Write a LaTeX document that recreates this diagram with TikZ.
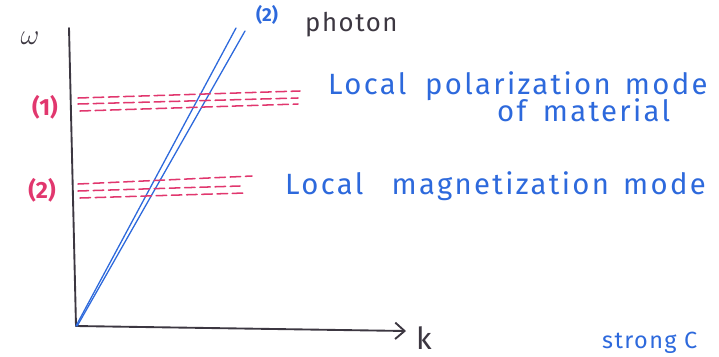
\documentclass[tikz,border=0pt]{standalone}
\usepackage{fontspec}
\setmainfont{Fira Sans}
\usetikzlibrary{arrows.meta}
\definecolor{penblue}{RGB}{45,105,220}
\definecolor{penpink}{RGB}{225,55,110}
\definecolor{penblack}{RGB}{60,55,65}
\tikzset{
  axis/.style={draw=penblack, line width=1.6pt, line cap=round},
  photon/.style={draw=penblue, line width=1.1pt, line cap=round},
  mode/.style={draw=penpink, line width=1.3pt, dash pattern=on 9pt off 4pt, line cap=round},
  bluetext/.style={text=penblue, font=\fontsize{25}{28}\selectfont\addfontfeatures{LetterSpace=8}, inner sep=0pt, anchor=west},
  pinktext/.style={text=penpink, font=\fontsize{20}{22}\selectfont\bfseries, inner sep=0pt},
  blacktext/.style={text=penblack, font=\fontsize{22}{24}\selectfont, inner sep=0pt}
}
\begin{document}
\begin{tikzpicture}[x=0.03cm, y=-0.03cm]
\useasboundingbox (0,0) rectangle (719,356);
% axes
\coordinate (ytop) at (69,28);
\coordinate (orig) at (76,326);
\coordinate (xend) at (406,331);
\draw[axis] (ytop) -- (orig);
\draw[axis, -{Straight Barb[length=8pt, width=14pt]}] (orig) -- (xend);
\node[blacktext, font=\fontsize{26}{28}\selectfont] (omega) at (30,38) {$\omega$};
\node[blacktext, font=\fontsize{26}{28}\selectfont] (kay) at (424,338) {k};
% photon lines
\coordinate (p1) at (236,28);
\coordinate (p2) at (245,31);
\draw[photon] (orig) -- (p1);
\draw[photon] ([xshift=1pt]orig) -- (p2);
\node[text=penblue, font=\fontsize{16}{18}\selectfont\bfseries, inner sep=0pt] (ptag) at (267,15) {(2)};
\node[blacktext, anchor=west, font=\fontsize{22}{24}\selectfont\addfontfeatures{LetterSpace=6}] (photon) at (305,25) {photon};
% level (1)
\coordinate (a1s) at (78,98); \coordinate (a1e) at (300,91);
\coordinate (a2s) at (78,104); \coordinate (a2e) at (298,98);
\coordinate (a3s) at (80,111); \coordinate (a3e) at (298,104);
\draw[mode] (a1s) -- (a1e);
\draw[mode] (a2s) -- (a2e);
\draw[mode] (a3s) -- (a3e);
\node[pinktext] (one) at (45,107) {(1)};
\node[bluetext] (pol) at (328,86) {Local\hspace{16pt}polarization\hspace{12pt}mode};
\node[bluetext] (mat) at (497,110) {of\hspace{14pt}material};
% level (2)
\coordinate (b1s) at (78,184); \coordinate (b1e) at (252,176);
\coordinate (b2s) at (78,191); \coordinate (b2e) at (240,186);
\coordinate (b3s) at (80,198); \coordinate (b3e) at (245,193);
\draw[mode] (b1s) -- (b1e);
\draw[mode] (b2s) -- (b2e);
\draw[mode] (b3s) -- (b3e);
\node[pinktext] (two) at (42,190) {(2)};
\node[bluetext] (mag) at (285,186) {Local\hspace{24pt}magnetization\hspace{12pt}mode};
% text at bottom right
\node[bluetext, font=\fontsize{20}{22}\selectfont\addfontfeatures{LetterSpace=6}] (strong) at (602,343) {strong C};
\end{tikzpicture}
\end{document}
